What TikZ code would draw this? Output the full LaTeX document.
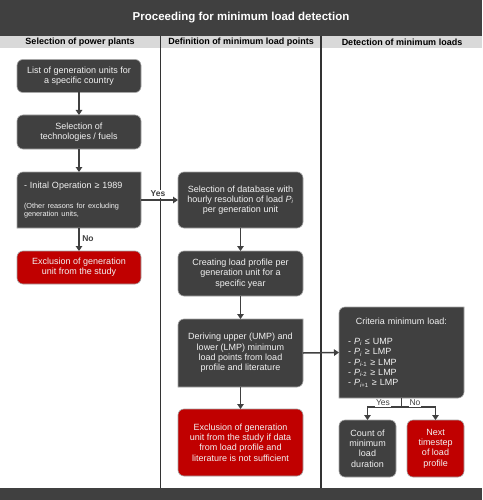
\documentclass[tikz,border=0pt]{standalone}
\usepackage{fontspec}
\setmainfont{Liberation Sans}
\usetikzlibrary{arrows.meta,calc,backgrounds}
\definecolor{dk}{HTML}{404040}
\definecolor{rd}{HTML}{C00000}
\definecolor{hd}{HTML}{D9D9D9}
\definecolor{bd}{HTML}{A6A6A6}
\definecolor{ln}{HTML}{333333}
\definecolor{tw}{HTML}{F2F2F2}
\newcommand\diagshape[2]{%
  \begin{pgfonlayer}{background}
  \path[fill=#2, draw=bd, line width=0.6pt]
    (#1.south west) -- ($(#1.north west)+(0,6)$)
    arc[start angle=180,end angle=270,radius=6]
    -- (#1.north east) -- ($(#1.south east)+(0,-6)$)
    arc[start angle=0,end angle=90,radius=6] -- cycle;
  \end{pgfonlayer}}
\begin{document}
\begin{tikzpicture}[x=1pt,y=-1pt,
  txt/.style={text=tw, font=\fontsize{9}{10.3}\selectfont, align=center, inner sep=0pt, outer sep=0pt},
  box/.style={txt, draw=bd, line width=0.6pt, fill=dk, rounded corners=6pt},
  redbox/.style={box, fill=rd},
  hdr/.style={font=\bfseries\fontsize{9}{10}\selectfont, text=black, inner sep=0pt},
  lbl/.style={font=\fontsize{8.5}{10}\selectfont, text=dk, inner sep=0.6pt, fill=white},
  arr/.style={draw=dk, line width=1.5pt, -{Triangle[length=5pt,width=6.5pt]}},
  con/.style={draw=dk, line width=1.5pt},
  divider/.style={draw=ln, line width=1.5pt}]
\useasboundingbox (0,0) rectangle (482,500);
\begin{pgfonlayer}{background}
\fill[white] (0,0) rectangle (482,500);
\end{pgfonlayer}
% frame
\fill[dk] (0,0) rectangle (482,36);
\fill[hd] (0,36) rectangle (482,48);
\fill[dk] (0,488) rectangle (482,500);
\draw[divider] (160.5,36) -- (160.5,488);
\draw[divider] (321,36) -- (321,488);
\node[font=\bfseries\fontsize{11.5}{13}\selectfont, text=white, inner sep=0pt] (title) at (241,17.5) {Proceeding for minimum load detection};
\node[hdr] (h1) at (80,42.5) {Selection of power plants};
\node[hdr] (h2) at (241,42.5) {Definition of minimum load points};
\node[hdr] (h3) at (402,42.5) {Detection of minimum loads};
% left column
\node[box, minimum width=124pt, minimum height=33pt] (b1) at (79,76) {List of generation units for\\a specific country};
\node[box, minimum width=124pt, minimum height=34pt] (b2) at (79,132) {Selection of\\technologies / fuels};
\node[txt, minimum width=124pt, minimum height=56pt, text width=110pt, align=left] (b3) at (79,200)
  {- Inital Operation ≥ 1989\par\vspace{12pt}\fontsize{7.3}{7.8}\selectfont\mbox{(Other reasons for excluding}\par\mbox{generation units,}\par};
\diagshape{b3}{dk}
\node[redbox, minimum width=124pt, minimum height=33pt] (b5) at (79,267.5) {Exclusion of generation\\unit from the study};
% middle column
\node[box, minimum width=125pt, minimum height=56pt] (b4) at (240.5,200) {Selection of database with\\hourly resolution of load \textit{P}\textsubscript{\textit{i}}\\per generation unit};
\node[box, minimum width=125pt, minimum height=45pt] (b6) at (240.5,273.5) {Creating load profile per\\generation unit for a\\specific year};
\node[txt, minimum width=125pt, minimum height=68pt] (b7) at (240.5,353) {Deriving upper (UMP) and\\lower (LMP) minimum\\load points from load\\profile and literature};
\diagshape{b7}{dk}
\node[redbox, minimum width=125pt, minimum height=67pt] (b8) at (240.5,442.5) {Exclusion of generation\\unit from the study if data\\from load profile and\\literature is not sufficient};
% right column
\node[txt, minimum width=125pt, minimum height=91pt, text width=107pt, align=left] (b9) at (401.5,352.5)
  {\makebox[\linewidth]{Criteria minimum load:}\par\vspace{10pt}%
   - \textit{P}\textsubscript{\textit{i}} ≤ UMP\\
   - \textit{P}\textsubscript{\textit{i}} ≥ LMP\\
   - \textit{P}\textsubscript{\textit{i}-1} ≥ LMP\\
   - \textit{P}\textsubscript{\textit{i}-2} ≥ LMP\\
   - \textit{P}\textsubscript{\textit{i}+1} ≥ LMP\par};
\diagshape{b9}{dk}
\node[box, minimum width=57pt, minimum height=57pt] (b10) at (367.5,448.5) {Count of\\minimum\\load\\duration};
\node[redbox, minimum width=57pt, minimum height=57pt] (b11) at (435.5,448.5) {Next\\timestep\\of load\\profile};
% connectors
\draw[arr] (b1) -- (b2);
\draw[arr] (b2) -- (b3);
\draw[arr] (b3.east) -- (b4.west);
\draw[arr] (b3.south) -- (b5.north);
\draw[arr] (b4) -- (b6);
\draw[arr] (b6) -- (b7);
\draw[arr] (b7) -- (b8);
\draw[arr] (b7.east) -- (b9.west);
\coordinate (split) at ($(b9.south)+(0,9)$);
\draw[con] (b9.south) -- (split);
\draw[arr] (split) -| (b10.north);
\draw[arr] (split) -| (b11.north);
% labels
\node[lbl, font=\bfseries\fontsize{8.5}{10}\selectfont] (yes1) at (158,194) {Yes};
\node[lbl, font=\bfseries\fontsize{8.5}{10}\selectfont] (no1) at (88,239) {No};
\node[lbl] (yes2) at (383,403) {Yes};
\node[lbl] (no2) at (415,403) {No};
\end{tikzpicture}
\end{document}
